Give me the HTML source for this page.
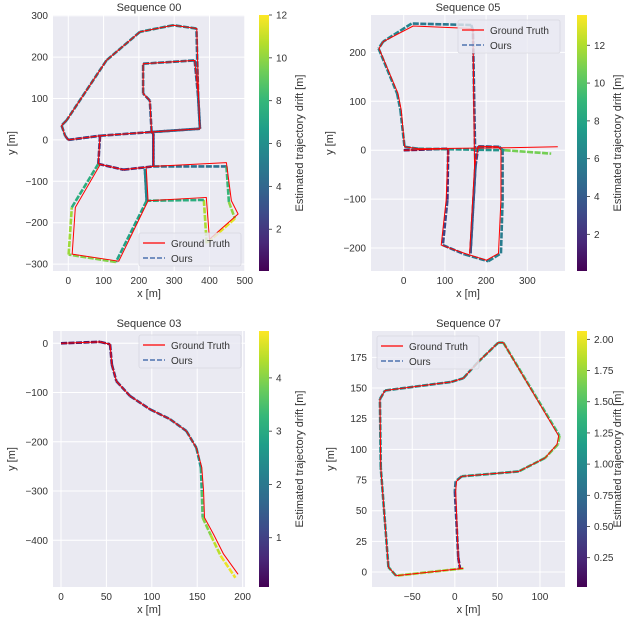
<!DOCTYPE html>
<html><head><meta charset="utf-8">
<style>
html,body{margin:0;padding:0;background:#fff;}
svg{display:block;font-family:"Liberation Sans","DejaVu Sans",sans-serif;}
</style></head>
<body>
<svg id="fig" width="636" height="622" viewBox="0 0 636 622" xmlns="http://www.w3.org/2000/svg"></svg>
<script>
// ---------- Sequence 00 ----------
const seq00GtX = [0,90,236,373,369,364,297,203,108,-5,-19,-9,0, 90,85,156,241,241,236,231,212,212,358,369,373,236,241,241, 448,462,481,400,391,226,221,226,143,11,20,90];
const seq00GtY = [0,10,19,27,103,269,277,261,192,47,35,10,0, 10,-58,-72,-64,15,19,95,112,184,192,103,27,19,15,-64, -55,-147,-179,-240,-139,-147,-70,-147,-293,-276,-163,-60];
const seq00EstX = [0,90,236,373,368,363,297,203,108,-5,-19,-9,0, 90,85,156,241,241,236,231,212,212,358,368,373,236,241,241, 448,455,472,392,384,222,217,222,135,1,10,85];
const seq00EstY = [0,10,19,27,103,269,277,261,192,47,35,10,0, 10,-58,-72,-64,15,19,95,112,184,192,103,27,19,15,-64, -64,-150,-190,-250,-145,-147,-70,-147,-295,-277,-163,-58];
const seq00Drift = [2,2.5,3.5,4,3.5,5,6,5.5,5,5,5,4,3, 2.5,2,1.5,2,3,3.5,3.5,4,5,4,3.5,4,3.5,3,2, 7,9,11,12,9,6,5,6,8,11.5,9,6];
// ---------- Sequence 05 ----------
const seq05GtX = [0,108,103,91,148,201,230,236,236,229,181,172,160, 172,168,164,23,-50,-60,-14,-6,2,35,245,374];
const seq05GtY = [0,3,-102,-194,-211,-225,-211,-102,0,7,8,-34,-211, -34,245,249,254,222,208,116,82,7,3,5,7];
const seq05EstX = [0,108,106,95,148,205,236,240,240,232,181,174,162, 174,168,164,19,-50,-61,-16,-8,2,35,245,358];
const seq05EstY = [0,3,-102,-194,-213,-227,-211,-102,0,7,8,-34,-211, -34,245,256,259,222,208,116,82,7,3,0,-7];
const seq05Drift = [0.5,1.5,2.5,3.5,5,6,6,5.5,5,4.5,3.5,3,4, 3.5,3.5,5,6,6.5,6.5,6,6,6,6,8,13.5];
// ---------- Sequence 03 ----------
const seq03GtX = [0,43,54,56,61,76,98,120,138,149,155,157,158,168,179,195];
const seq03GtY = [0,3,-2,-43,-77,-107,-134,-154,-178,-212,-252,-300,-354,-388,-428,-469];
const seq03EstX = [0,43,54,56,61,76,98,120,138,149,154,155,156,165,176,192];
const seq03EstY = [0,3,-2,-43,-77,-107,-134,-154,-178,-212,-252,-300,-354,-390,-432,-476];
const seq03Drift = [0.3,0.4,0.5,0.7,0.9,1.0,1.2,1.5,1.9,2.3,2.8,3.3,3.8,4.2,4.6,4.9];
// ---------- Sequence 07 ----------
const seq07GtX = [10,-69,-78,-87,-88,-82,-4,10,27,51,57,122,120,106,75,8,2,1,4,6];
const seq07GtY = [3,-3,4,85,141,148,155,158,171,187,187,111,104,93,82,78,74,66,12,3];
const seq07EstX = [10,-69,-78,-87,-88,-82,-4,10,27,51,57,123,121,106,75,8,1,0,4,6];
const seq07EstY = [3,-3,4,85,141,148,155,158,171,187,187,111,104,93,82,78,74,66,12,3];
const seq07Drift = [2.0,1.5,1.1,1.0,1.0,1.0,1.0,1.1,1.2,1.3,1.3,1.6,1.7,1.5,1.3,1.1,0.9,0.6,0.3,0.1];
// tick labels
const seq00XTicks = [0,100,200,300,400,500], seq00YTicks = [-300,-200,-100,0,100,200,300], seq00CTicks = [2,4,6,8,10,12];
const seq05XTicks = [0,100,200,300], seq05YTicks = [-200,-100,0,100,200], seq05CTicks = [2,4,6,8,10,12];
const seq03XTicks = [0,50,100,150,200], seq03YTicks = [-400,-300,-200,-100,0], seq03CTicks = [1,2,3,4];
const seq07XTicks = [-50,0,50,100], seq07YTicks = [0,25,50,75,100,125,150,175], seq07CTicks = [0.25,0.5,0.75,1.0,1.25,1.5,1.75,2.0];

const NS = "http://www.w3.org/2000/svg";
const fig = document.getElementById('fig');
const VIR = [[68,1,84],[72,40,120],[62,74,137],[49,104,142],[38,130,142],[31,158,137],[53,183,121],[109,205,89],[180,222,44],[253,231,37]];
function viridis(t){ t=Math.max(0,Math.min(1,t)); const p=t*(VIR.length-1); const i=Math.min(Math.floor(p),VIR.length-2); const f=p-i;
  const c=VIR[i].map((v,k)=>Math.round(v+(VIR[i+1][k]-v)*f)); return `rgb(${c[0]},${c[1]},${c[2]})`; }
function mk(tag, attrs, parent){ const e=document.createElementNS(NS,tag); for(const k in attrs) e.setAttribute(k,attrs[k]); (parent||fig).appendChild(e); return e; }
function fmt(v, dec){ const s = dec ? v.toFixed(dec) : String(v); return s.replace('-','\u2212'); }

function panel(cfg){
  const g = mk('g',{});
  
  
  const sx = v => cfg.bx + (v - cfg.xmin)/(cfg.xmax-cfg.xmin)*cfg.bw;
  const sy = v => cfg.by + cfg.bh - (v - cfg.ymin)/(cfg.ymax-cfg.ymin)*cfg.bh;
  const bg = mk('rect',{x:cfg.bx,y:cfg.by,width:cfg.bw,height:cfg.bh,fill:'#eaeaf2'},g);
  
  
  cfg.xt.forEach(v=>{ const x=sx(v);
    const l=mk('line',{x1:x,x2:x,y1:cfg.by,y2:cfg.by+cfg.bh,stroke:'#fff','stroke-width':1},g);
     
    const t=mk('text',{x:x,y:cfg.by+cfg.bh+13,'text-anchor':'middle','font-size':10,fill:'#333'},g); t.textContent=fmt(v);
      });
  cfg.yt.forEach(v=>{ const y=sy(v);
    const l=mk('line',{x1:cfg.bx,x2:cfg.bx+cfg.bw,y1:y,y2:y,stroke:'#fff','stroke-width':1},g);
     
    const t=mk('text',{x:cfg.bx-5,y:y+3.5,'text-anchor':'end','font-size':10,fill:'#333'},g); t.textContent=fmt(v);
      });
  const eg = mk('g',{'stroke-width':2.6,'stroke-linecap':'butt','stroke-dasharray':'6 1.5'},g);
   
  for(let i=0;i<cfg.ex.length-1;i++){
    const d=(cfg.ed[i]+cfg.ed[i+1])/2;
    const s=mk('line',{x1:sx(cfg.ex[i]),y1:sy(cfg.ey[i]),x2:sx(cfg.ex[i+1]),y2:sy(cfg.ey[i+1]),stroke:viridis((d-cfg.cmin)/(cfg.cmax-cfg.cmin))},eg);
     
  }
  const gt = mk('polyline',{points:cfg.gx.map((x,i)=>sx(x)+','+sy(cfg.gy[i])).join(' '),fill:'none',stroke:'#ff0000','stroke-width':1,'stroke-linejoin':'round'},g);
   
  const ti=mk('text',{x:cfg.bx+cfg.bw/2,y:cfg.by-4,'text-anchor':'middle','font-size':11,fill:'#333'},g); ti.textContent=cfg.title;
   
  const xl=mk('text',{x:cfg.bx+cfg.bw/2,y:cfg.by+cfg.bh+26,'text-anchor':'middle','font-size':11,fill:'#333'},g); xl.textContent='x [m]';
   
  const yx=cfg.bx-38, yy=cfg.by+cfg.bh/2;
  const yl=mk('text',{x:yx,y:yy,'text-anchor':'middle','font-size':11,fill:'#333',transform:`rotate(-90 ${yx} ${yy})`},g); yl.textContent='y [m]';
   
  const lg=mk('g',{},g);  
  mk('rect',{x:cfg.lx,y:cfg.ly,width:102,height:33,rx:2,fill:'#eaeaf2','fill-opacity':0.8,stroke:'#d8d8e0','stroke-width':0.8},lg);
  mk('line',{x1:cfg.lx+4,x2:cfg.lx+26,y1:cfg.ly+10,y2:cfg.ly+10,stroke:'#ff0000','stroke-width':1.2},lg);
  const t1=mk('text',{x:cfg.lx+32,y:cfg.ly+14,'font-size':10,fill:'#333'},lg); t1.textContent='Ground Truth';
   
  mk('line',{x1:cfg.lx+4,x2:cfg.lx+26,y1:cfg.ly+25,y2:cfg.ly+25,stroke:'#4c72b0','stroke-width':1.6,'stroke-dasharray':'5 2'},lg);
  const t2=mk('text',{x:cfg.lx+32,y:cfg.ly+29,'font-size':10,fill:'#333'},lg); t2.textContent='Ours';
   
  const cb=mk('g',{},g);  
  const gid='grad'+cfg.name;
  const defs=mk('defs',{},cb); const lgd=mk('linearGradient',{id:gid,x1:0,y1:1,x2:0,y2:0},defs);
  VIR.forEach((c,i)=>mk('stop',{offset:(i/(VIR.length-1)),'stop-color':`rgb(${c[0]},${c[1]},${c[2]})`},lgd));
  mk('rect',{x:cfg.cx,y:cfg.by,width:10,height:cfg.bh,fill:`url(#${gid})`},cb);
  const cy = v => cfg.by + cfg.bh - (v-cfg.cmin)/(cfg.cmax-cfg.cmin)*cfg.bh;
  cfg.ct.forEach(v=>{ const y=cy(v);
    mk('line',{x1:cfg.cx+10,x2:cfg.cx+13,y1:y,y2:y,stroke:'#333','stroke-width':0.8},cb);
    const t=mk('text',{x:cfg.cx+17,y:y+3.5,'font-size':10,fill:'#333'},cb); t.textContent=fmt(v,cfg.cdec);
      });
  const clx=cfg.cx+44, cly=cfg.by+cfg.bh/2;
  const cl=mk('text',{x:clx,y:cly,'text-anchor':'middle','font-size':11,fill:'#333',transform:`rotate(-90 ${clx} ${cly})`},cb); cl.textContent='Estimated trajectory drift [m]';
   
}

panel({name:'panel-seq00',title:'Sequence 00',bx:53,by:15,bw:192,bh:256,xmin:-43.3,xmax:500.6,ymin:-316.7,ymax:301.7,
  gx:seq00GtX,gy:seq00GtY,ex:seq00EstX,ey:seq00EstY,ed:seq00Drift,xt:seq00XTicks,yt:seq00YTicks,
  cx:259,cmin:0.05,cmax:12.0,ct:seq00CTicks,cdec:0,lx:139,ly:233});
panel({name:'panel-seq05',title:'Sequence 05',bx:371,by:15,bw:194,bh:256,xmin:-79.4,xmax:391.5,ymin:-247,ymax:276.5,
  gx:seq05GtX,gy:seq05GtY,ex:seq05EstX,ey:seq05EstY,ed:seq05Drift,xt:seq05XTicks,yt:seq05YTicks,
  cx:577,cmin:0.06,cmax:13.6,ct:seq05CTicks,cdec:0,lx:458,ly:20});
panel({name:'panel-seq03',title:'Sequence 03',bx:53,by:331,bw:192,bh:256,xmin:-8.8,xmax:202.6,ymin:-494.8,ymax:25,
  gx:seq03GtX,gy:seq03GtY,ex:seq03EstX,ey:seq03EstY,ed:seq03Drift,xt:seq03XTicks,yt:seq03YTicks,
  cx:259,cmin:0.075,cmax:4.88,ct:seq03CTicks,cdec:0,lx:139,ly:335});
panel({name:'panel-seq07',title:'Sequence 07',bx:372,by:331,bw:193,bh:256,xmin:-97.3,xmax:129.4,ymin:-12.2,ymax:196.5,
  gx:seq07GtX,gy:seq07GtY,ex:seq07EstX,ey:seq07EstY,ed:seq07Drift,xt:seq07XTicks,yt:seq07YTicks,
  cx:577,cmin:0.015,cmax:2.067,ct:seq07CTicks,cdec:2,lx:377,ly:336});
</script>
</body></html>
